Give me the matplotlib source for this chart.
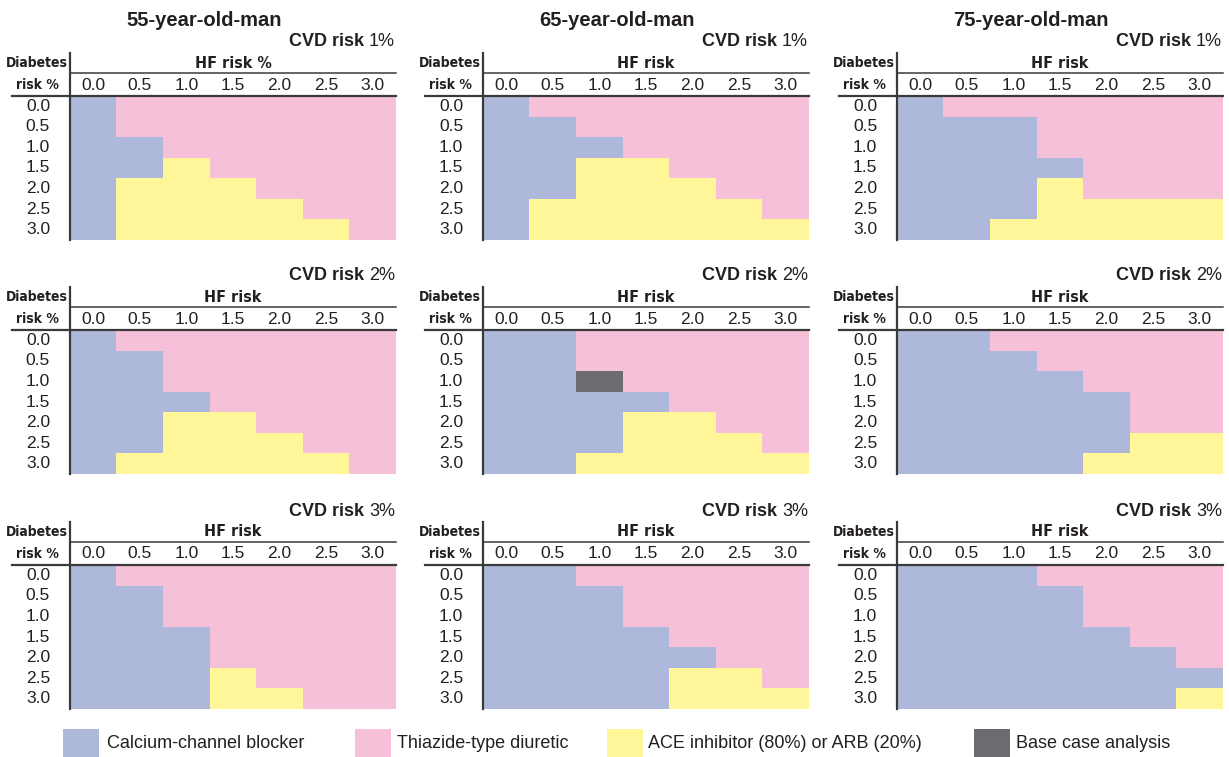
import numpy as np
import matplotlib
matplotlib.use('Agg')
import matplotlib.pyplot as plt
from matplotlib import font_manager
from matplotlib.colors import ListedColormap
from matplotlib.patches import Rectangle
from matplotlib.lines import Line2D

plt.rcParams['font.family'] = ['Liberation Sans', 'DejaVu Sans']

# ---- data -------------------------------------------------------------
ages = ['55-year-old-man', '65-year-old-man', '75-year-old-man']
cvd_risks = ['1%', '2%', '3%']
hf_ticks = ['0.0', '0.5', '1.0', '1.5', '2.0', '2.5', '3.0']
diab_ticks = ['0.0', '0.5', '1.0', '1.5', '2.0', '2.5', '3.0']

# C = calcium-channel blocker, T = thiazide, A = ACE/ARB, B = base case
# rows: diabetes risk 0.0 -> 3.0, columns: HF risk 0.0 -> 3.0
m55_cvd1 = ['CTTTTTT', 'CTTTTTT', 'CCTTTTT', 'CCATTTT', 'CAAATTT', 'CAAAATT', 'CAAAAAT']
m65_cvd1 = ['CTTTTTT', 'CCTTTTT', 'CCCTTTT', 'CCAATTT', 'CCAAATT', 'CAAAAAT', 'CAAAAAA']
m75_cvd1 = ['CTTTTTT', 'CCCTTTT', 'CCCTTTT', 'CCCCTTT', 'CCCATTT', 'CCCAAAA', 'CCAAAAA']
m55_cvd2 = ['CTTTTTT', 'CCTTTTT', 'CCTTTTT', 'CCCTTTT', 'CCAATTT', 'CCAAATT', 'CAAAAAT']
m65_cvd2 = ['CCTTTTT', 'CCTTTTT', 'CCBTTTT', 'CCCCTTT', 'CCCAATT', 'CCCAAAT', 'CCAAAAA']
m75_cvd2 = ['CCTTTTT', 'CCCTTTT', 'CCCCTTT', 'CCCCCTT', 'CCCCCTT', 'CCCCCAA', 'CCCCAAA']
m55_cvd3 = ['CTTTTTT', 'CCTTTTT', 'CCTTTTT', 'CCCTTTT', 'CCCTTTT', 'CCCATTT', 'CCCAATT']
m65_cvd3 = ['CCTTTTT', 'CCCTTTT', 'CCCTTTT', 'CCCCTTT', 'CCCCCTT', 'CCCCAAT', 'CCCCAAA']
m75_cvd3 = ['CCCTTTT', 'CCCCTTT', 'CCCCTTT', 'CCCCCTT', 'CCCCCCT', 'CCCCCCC', 'CCCCCCA']

panels = [[m55_cvd1, m65_cvd1, m75_cvd1],
          [m55_cvd2, m65_cvd2, m75_cvd2],
          [m55_cvd3, m65_cvd3, m75_cvd3]]

codes = 'CTAB'
legend_labels = ['Calcium-channel blocker', 'Thiazide-type diuretic',
                 'ACE inhibitor (80%) or ARB (20%)', 'Base case analysis']
colors = ['#aeb8db', '#f6c0d8', '#fff599', '#6c6c70']

# ---- layout (pixels) ---------------------------------------------------
W, H = 1229, 757
col_x = [70, 483, 897]
row_top = [96, 330, 565]
pw, ph = 326, 144
ink = '#231f20'
line_c = '#3a3a3a'

# condensed bold face for the small header labels, if one is installed
names = {f.name for f in font_manager.fontManager.ttflist}
cond_dejavu = any(f.name == 'DejaVu Sans' and f.stretch == 'condensed'
                  for f in font_manager.fontManager.ttflist)
if 'Liberation Sans Narrow' in names:
    hdr = dict(family='Liberation Sans Narrow', fontweight='bold')
    hdr_fs, hf_fs = 12, 13
elif cond_dejavu:
    hdr = dict(family='DejaVu Sans', fontstretch='condensed', fontweight='bold')
    hdr_fs, hf_fs = 10, 11.5
else:
    hdr = dict(family='Liberation Sans', fontweight='bold')
    hdr_fs, hf_fs = 10, 11.5

fig = plt.figure(figsize=(W / 100, H / 100), dpi=100)
cmap = ListedColormap(colors)


def fx(x):
    return x / W


def fy(y):
    return 1 - y / H


for r in range(3):
    for c in range(3):
        x0, T = col_x[c], row_top[r]
        ax = fig.add_axes([fx(x0), fy(T + ph), pw / W, ph / H])
        grid = np.array([[codes.index(ch) for ch in row] for row in panels[r][c]])
        ax.imshow(grid, cmap=cmap, vmin=0, vmax=3, aspect='auto',
                  interpolation='nearest')

        for s in ['right', 'bottom', 'top', 'left']:
            ax.spines[s].set_visible(False)

        ax.xaxis.tick_top()
        ax.set_xticks(range(7))
        ax.set_xticklabels(hf_ticks, fontsize=12.5, color=ink)
        ax.set_yticks(range(7))
        ax.set_yticklabels(diab_ticks, fontsize=12.5, color=ink)
        ax.tick_params(axis='x', length=0, pad=11 * 0.72)
        ax.tick_params(axis='y', length=0, pad=32 * 0.72)
        for lab in ax.get_xticklabels():
            lab.set_va('center')
        for lab in ax.get_yticklabels():
            lab.set_ha('center')
            lab.set_va('center')

        # header rules
        fig.add_artist(Line2D([fx(x0 - 58), fx(x0 + pw)], [fy(T), fy(T)],
                              color=line_c, lw=1.6))
        fig.add_artist(Line2D([fx(x0), fx(x0 + pw)], [fy(T - 23), fy(T - 23)],
                              color=line_c, lw=1.1))
        fig.add_artist(Line2D([fx(x0), fx(x0)], [fy(T - 43), fy(T + ph)],
                              color=line_c, lw=1.6))

        hf_label = 'HF risk %' if (r == 0 and c == 0) else 'HF risk'
        fig.text(fx(x0 + pw / 2), fy(T - 33), hf_label, ha='center', va='center',
                 fontsize=hf_fs, color=ink, **hdr)
        fig.text(fx(x0 - 33), fy(T - 33), 'Diabetes', ha='center', va='center',
                 fontsize=hdr_fs, color=ink, **hdr)
        fig.text(fx(x0 - 33), fy(T - 11), 'risk %', ha='center', va='center',
                 fontsize=hdr_fs, color=ink, **hdr)

        pct = fig.text(fx(x0 + pw - 1), fy(T - 54), cvd_risks[r], ha='right',
                       va='center', fontsize=13, color=ink)
        ax.annotate('CVD risk ', xy=(0, 0.5), xycoords=pct, ha='right',
                    va='center', fontsize=13, fontweight='bold', color=ink,
                    annotation_clip=False)

        if r == 0:
            fig.text(fx(x0 + 134), fy(T - 76), ages[c], ha='center', va='center',
                     fontsize=14.5, fontweight='bold', color=ink)

# ---- legend ------------------------------------------------------------
leg_box_x = [63, 355, 607, 974]
leg_text_x = [107, 397, 648, 1016]
for i in range(4):
    fig.add_artist(Rectangle((fx(leg_box_x[i]), fy(757)), 36 / W, 28 / H,
                             transform=fig.transFigure, facecolor=colors[i],
                             edgecolor='none'))
    fig.text(fx(leg_text_x[i]), fy(743), legend_labels[i], ha='left',
             va='center', fontsize=13, color=ink)

fig.savefig('out.png', dpi=100)
